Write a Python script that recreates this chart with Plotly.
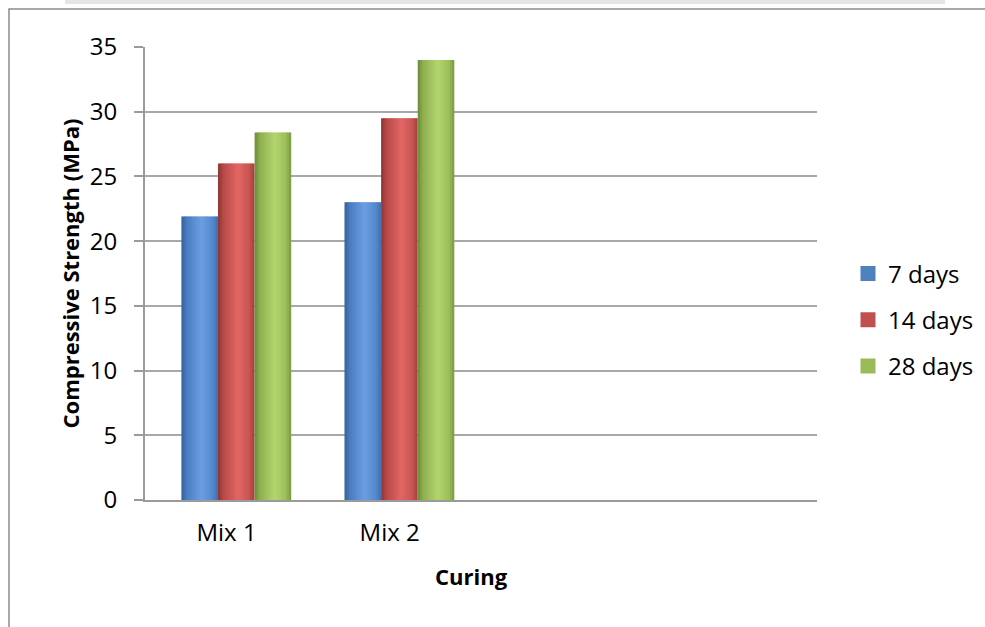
import plotly.graph_objects as go

# ---- data ----
categories = ["Mix 1", "Mix 2"]
series_names = ["7 days", "14 days", "28 days"]
days7 = [21.9, 23.0]
days14 = [26.0, 29.5]
days28 = [28.4, 34.0]
y_ticks = [0, 5, 10, 15, 20, 25, 30, 35]

series_values = [days7, days14, days28]

# ---- style ----
FONT = "Open Sans"
TICK_SIZE = 24
TITLE_SIZE = 22
legend_colors = ["#4f81bd", "#c0504d", "#9bbb59"]
stops_pos = [0.0, 0.15, 0.55, 0.85, 1.0]
stops_col = [
    ["#35629b", "#4a7cc0", "#6b9fe3", "#5589cf", "#3f6fae"],
    ["#8a3533", "#b84a48", "#e26664", "#c85553", "#a0403e"],
    ["#6a8a35", "#8fb050", "#b3d56e", "#9cbf5c", "#78993f"],
]
BAR_W = 0.2245
GROUP_OFF = -0.277
N_SLICES = 16


def hex2rgb(h):
    h = h.lstrip("#")
    return tuple(int(h[i:i + 2], 16) for i in (0, 2, 4))


def grad(t, cols):
    for k in range(len(stops_pos) - 1):
        a, b = stops_pos[k], stops_pos[k + 1]
        if a <= t <= b:
            f = (t - a) / (b - a) if b > a else 0
            c1, c2 = hex2rgb(cols[k]), hex2rgb(cols[k + 1])
            c = [round(c1[j] + (c2[j] - c1[j]) * f) for j in range(3)]
            return "rgb(%d,%d,%d)" % tuple(c)
    return cols[-1]


fig = go.Figure()

for s, (name, vals) in enumerate(zip(series_names, series_values)):
    base = GROUP_OFF + s * BAR_W
    sw = BAR_W / N_SLICES
    for i in range(N_SLICES):
        t = (i + 0.5) / N_SLICES
        w = sw * (1.6 if i < N_SLICES - 1 else 1.0)
        fig.add_trace(go.Bar(
            x=categories, y=vals,
            offset=base + i * sw, width=w,
            marker=dict(color=grad(t, stops_col[s]), line=dict(width=0)),
            showlegend=False, legendgroup=name, name=name,
            hovertemplate="%{x}<br>" + name + ": %{y}<extra></extra>",
        ))
    # legend proxy
    fig.add_trace(go.Scatter(
        x=[None], y=[None], mode="markers", name=name, legendgroup=name,
        marker=dict(symbol="square", size=15, color=legend_colors[s]),
        showlegend=True,
    ))

L, R, T, B = 145, 168, 47, 127
PW, PH = 985 - L - R, 627 - T - B


def px(xp):
    return (xp - L) / PW


def py(yp):
    return (627 - B - yp) / PH


fig.update_layout(
    width=985, height=627,
    margin=dict(l=L, r=R, t=T, b=B, autoexpand=False),
    paper_bgcolor="white", plot_bgcolor="white",
    barmode="overlay",
    font=dict(family=FONT, size=TICK_SIZE, color="#000000"),
    showlegend=True,
    legend=dict(
        x=px(848), y=py(320), xanchor="left", yanchor="middle",
        traceorder="grouped", tracegroupgap=12,
        font=dict(family=FONT, size=TICK_SIZE, color="#000000"),
        bgcolor="rgba(0,0,0,0)",
    ),
    xaxis=dict(
        type="category", categoryorder="array", categoryarray=categories,
        range=[-0.5, 3.62],
        showgrid=False, zeroline=False,
        showline=True, linecolor="#9a9a9a", linewidth=2,
        ticks="", ticklabelstandoff=10,
        tickfont=dict(family=FONT, size=TICK_SIZE, color="#000000"),
        fixedrange=True,
    ),
    yaxis=dict(
        range=[0, 35], tickvals=y_ticks,
        showgrid=True, gridcolor="#a8a8a8", gridwidth=2,
        zeroline=False,
        showline=True, linecolor="#9a9a9a", linewidth=2,
        ticks="outside", ticklen=9, tickcolor="#9a9a9a", tickwidth=2,
        ticklabelstandoff=12,
        tickfont=dict(family=FONT, size=TICK_SIZE, color="#000000"),
        fixedrange=True,
    ),
    annotations=[
        dict(text="<b>Compressive Strength (MPa)</b>", textangle=-90,
             xref="paper", yref="paper", x=px(69), y=0.5,
             xanchor="center", yanchor="middle", showarrow=False,
             font=dict(family=FONT, size=TITLE_SIZE, color="#000000")),
        dict(text="<b>Curing</b>",
             xref="paper", yref="paper", x=px(471.5), y=py(576),
             xanchor="center", yanchor="middle", showarrow=False,
             font=dict(family=FONT, size=TITLE_SIZE, color="#000000")),
    ],
    shapes=[
        # outer chart border
        dict(type="rect", xref="paper", yref="paper",
             x0=px(9), x1=px(1000), y0=py(640), y1=py(9),
             line=dict(color="#8c8c8c", width=1.5), fillcolor="rgba(0,0,0,0)",
             layer="below"),
        # faint shadow strip at top
        dict(type="rect", xref="paper", yref="paper",
             x0=px(65), x1=px(945), y0=py(4), y1=py(0),
             line=dict(width=0), fillcolor="rgba(0,0,0,0.10)", layer="below"),
    ],
)

fig.write_html("out.html")
